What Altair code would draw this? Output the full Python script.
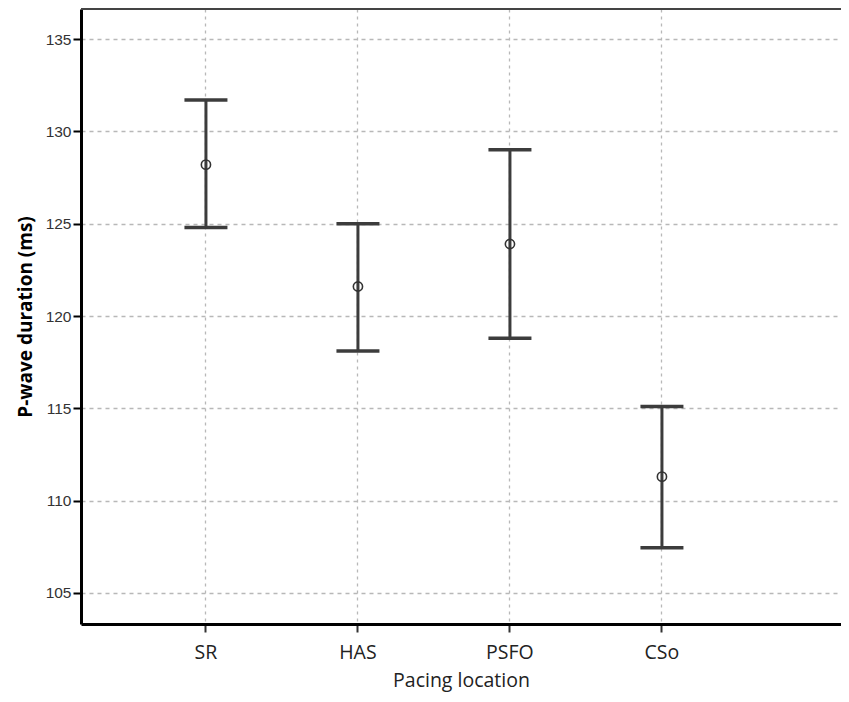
import altair as alt
import pandas as pd

locations = ["SR", "HAS", "PSFO", "CSo"]
means = [128.2, 121.6, 123.9, 111.3]
lower = [124.8, 118.1, 118.8, 107.45]
upper = [131.7, 125.0, 129.0, 115.1]

df = pd.DataFrame({"loc": locations, "mean": means, "lo": lower, "hi": upper})

ydom = [103.32, 136.63]
xscale = alt.Scale(domain=locations, padding=1.028, align=0.411)
yscale = alt.Scale(domain=ydom, nice=False, zero=False)

xenc = alt.X("loc:N", scale=xscale, sort=locations, title="Pacing location",
             axis=alt.Axis(labelAngle=0, grid=True, gridDash=[3, 4], gridColor="#b8b8b8",
                           gridWidth=1.3, domainColor="#000", domainWidth=3,
                           tickColor="#333", tickWidth=2, tickSize=8,
                           labelFont="Open Sans", labelFontSize=19.5, labelColor="#222",
                           labelPadding=11, titleFont="Open Sans", titleFontSize=19.5,
                           titleFontWeight="normal", titleColor="#222", titlePadding=10))

base = alt.Chart(df)

rule = base.mark_rule(color="#3c3c3c", strokeWidth=3).encode(
    x=xenc,
    y=alt.Y("lo:Q", scale=yscale, title="P-wave duration (ms)",
            axis=alt.Axis(values=[105, 110, 115, 120, 125, 130, 135], grid=True,
                          gridDash=[4, 4], gridColor="#b8b8b8", gridWidth=1.3,
                          domainColor="#000", domainWidth=3, tickColor="#000",
                          tickWidth=2, tickSize=8, labelFont="Liberation Sans",
                          labelFontSize=15.5, labelColor="#333", labelPadding=2,
                          titleFont="Open Sans", titleFontSize=19, titleFontWeight="bold",
                          titleColor="#000", titlePadding=10)),
    y2="hi:Q",
)

caps_lo = base.mark_tick(color="#3c3c3c", size=43, thickness=3.5, opacity=1).encode(
    x=alt.X("loc:N", scale=xscale, sort=locations), y=alt.Y("lo:Q", scale=yscale))
caps_hi = base.mark_tick(color="#3c3c3c", size=43, thickness=3.5, opacity=1).encode(
    x=alt.X("loc:N", scale=xscale, sort=locations), y=alt.Y("hi:Q", scale=yscale))

pts = base.mark_point(shape="circle", filled=False, color="#333",
                      strokeWidth=1.6, size=85, opacity=1).encode(
    x=alt.X("loc:N", scale=xscale, sort=locations), y=alt.Y("mean:Q", scale=yscale))

top = alt.Chart(pd.DataFrame({"k": [0]})).mark_rule(color="#444", strokeWidth=2).encode(
    y=alt.value(0), x=alt.value(0), x2=alt.value(760))

chart = alt.layer(rule, caps_lo, caps_hi, pts, top).properties(
    width=760, height=615,
    autosize=alt.AutoSizeParams(type="none"),
    padding={"left": 73, "top": 1, "right": 0, "bottom": 80},
).configure_view(stroke=None).configure(background="white")

chart.save("out.html", embed_options={"renderer": "svg", "actions": False})
